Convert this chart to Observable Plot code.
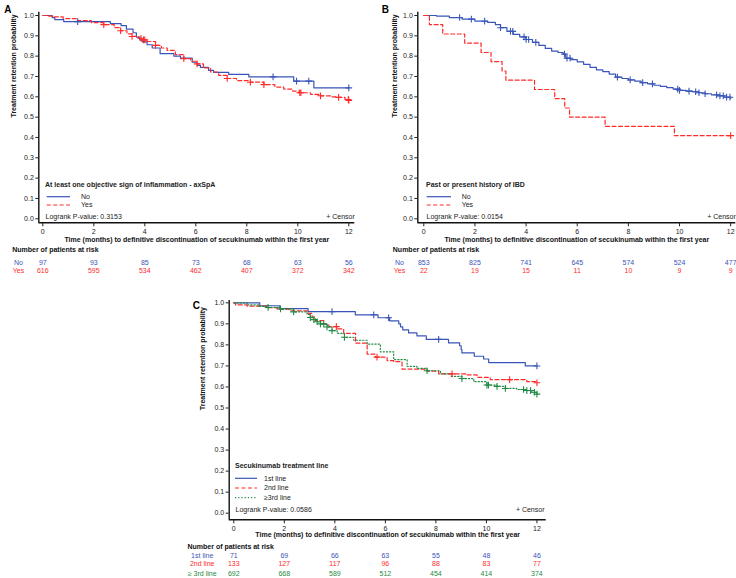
<!DOCTYPE html>
<html><head><meta charset="utf-8">
<script src="https://cdn.jsdelivr.net/npm/d3@7"></script>
<script src="https://cdn.jsdelivr.net/npm/@observablehq/plot@0.6"></script>
<style>
body{margin:0;background:#fff;}
#fig{position:relative;width:736px;height:578px;overflow:hidden;font-family:"Liberation Sans",Arial,sans-serif;}
#fig > div{position:absolute;}
</style></head><body><div id="fig"></div>
<script>
// ---------- shared ----------
const months = [0, 2, 4, 6, 8, 10, 12];
const yTicks = [0, 0.1, 0.2, 0.3, 0.4, 0.5, 0.6, 0.7, 0.8, 0.9, 1.0];
const BLUE = "#3a55b8", RED = "#ff2b2b", GREEN = "#1f8b45";

// ---------- Panel A ----------
const aNoT = [0, 0.37, 0.47, 0.82, 2.65, 3.07, 3.28, 3.54, 3.67, 3.8, 3.9, 4.09, 4.29, 4.6, 5.14, 5.4, 5.86, 6.05, 6.18, 6.5, 6.7, 7.29, 8.08, 9.84, 10.63, 12];
const aNoS = [1.0, 0.99, 0.98, 0.97, 0.96, 0.95, 0.933, 0.915, 0.894, 0.88, 0.87, 0.856, 0.84, 0.812, 0.80, 0.79, 0.77, 0.755, 0.745, 0.73, 0.72, 0.71, 0.698, 0.677, 0.644, 0.644];
const aNoCens = [1.37, 9.03, 9.95, 10.43, 12];
const aYesT = [0, 0.2, 0.43, 0.8, 1.35, 1.9, 2.39, 2.8, 3.05, 3.3, 3.5, 3.75, 3.95, 4.1, 4.42, 4.65, 4.88, 5.2, 5.53, 5.8, 6.05, 6.3, 6.58, 6.9, 7.23, 7.6, 8.14, 8.67, 9.1, 9.45, 9.8, 10.08, 10.5, 10.89, 11.3, 11.6, 11.85, 12];
const aYesS = [1.0, 0.997, 0.993, 0.985, 0.975, 0.965, 0.955, 0.94, 0.925, 0.91, 0.897, 0.888, 0.88, 0.872, 0.853, 0.84, 0.828, 0.808, 0.788, 0.775, 0.762, 0.742, 0.722, 0.705, 0.69, 0.68, 0.672, 0.66, 0.648, 0.638, 0.628, 0.62, 0.612, 0.605, 0.6, 0.597, 0.587, 0.582];
const aYesCens = [2.39, 3.05, 3.5, 3.85, 3.95, 4.0, 4.42, 5.53, 6.05, 7.23, 8.14, 8.67, 10.08, 10.12, 10.89, 11.6, 11.98, 12];
const aRiskNo = [97, 93, 85, 73, 68, 63, 56];
const aRiskYes = [616, 595, 534, 462, 407, 372, 342];

// ---------- Panel B ----------
const bNoT = [0, 0.5, 1.0, 1.5, 2.0, 2.5, 2.8, 3.0, 3.25, 3.5, 3.75, 4.0, 4.25, 4.5, 4.75, 5.0, 5.25, 5.45, 5.55, 5.75, 6.0, 6.25, 6.5, 6.75, 7.0, 7.25, 7.5, 7.75, 8.0, 8.25, 8.5, 8.75, 9.0, 9.25, 9.5, 9.75, 10.0, 10.25, 10.5, 10.75, 11.0, 11.25, 11.5, 11.75, 12];
const bNoS = [1.0, 0.997, 0.99, 0.982, 0.972, 0.966, 0.955, 0.94, 0.922, 0.907, 0.895, 0.882, 0.868, 0.853, 0.838, 0.825, 0.818, 0.81, 0.79, 0.783, 0.772, 0.76, 0.745, 0.733, 0.724, 0.712, 0.697, 0.69, 0.683, 0.677, 0.67, 0.664, 0.657, 0.651, 0.645, 0.638, 0.632, 0.628, 0.625, 0.62, 0.615, 0.61, 0.605, 0.598, 0.592];
const bNoCens = [1.4, 1.86, 2.38, 3.0, 3.39, 3.48, 3.92, 4.0, 4.1, 4.38, 5.5, 5.6, 5.72, 7.57, 8.07, 8.56, 8.94, 9.93, 10.0, 10.37, 10.63, 10.76, 11.0, 11.45, 11.58, 11.71, 11.84, 11.97];
const bYesT = [0, 0.22, 0.74, 1.6, 2.24, 2.63, 3.06, 3.21, 4.33, 5.12, 5.51, 5.7, 7.09, 9.8, 12];
const bYesS = [1.0, 0.955, 0.909, 0.864, 0.818, 0.773, 0.727, 0.682, 0.636, 0.591, 0.545, 0.5, 0.455, 0.409, 0.409];
const bYesCens = [12];
const bRiskNo = [853, 825, 741, 645, 574, 524, 477];
const bRiskYes = [22, 19, 15, 11, 10, 9, 9];

// ---------- Panel C ----------
const c1T = [0, 1.03, 1.82, 2.94, 4.81, 5.71, 6.17, 6.53, 6.6, 6.69, 6.92, 7.25, 7.62, 8.5, 8.94, 9.0, 9.03, 9.52, 9.89, 10.09, 11.54, 12];
const c1S = [1.0, 0.986, 0.972, 0.958, 0.943, 0.929, 0.914, 0.9, 0.886, 0.871, 0.857, 0.843, 0.826, 0.81, 0.796, 0.778, 0.762, 0.746, 0.733, 0.716, 0.70, 0.70];
const c1Cens = [3.89, 5.54, 6.13, 8.11, 12];
const c2T = [0, 0.07, 0.53, 1.32, 1.71, 2.24, 2.9, 3.1, 3.23, 3.56, 3.76, 4.09, 4.35, 4.82, 5.28, 5.6, 6.07, 6.33, 6.66, 7.65, 8.11, 9.23, 9.63, 10.15, 11.6, 12];
const c2S = [1.0, 0.99, 0.984, 0.977, 0.97, 0.962, 0.95, 0.932, 0.915, 0.898, 0.887, 0.876, 0.855, 0.808, 0.756, 0.742, 0.725, 0.72, 0.685, 0.675, 0.662, 0.657, 0.646, 0.635, 0.625, 0.62];
const c2Cens = [4.06, 5.67, 8.64, 10.92, 12];
const c3T = [0, 0.53, 1.0, 1.36, 1.85, 2.37, 2.9, 3.03, 3.17, 3.3, 3.43, 3.69, 3.89, 4.09, 4.38, 4.75, 5.28, 5.8, 6.33, 6.86, 7.25, 7.65, 8.18, 8.6, 9.03, 9.5, 10.02, 10.42, 10.75, 11.2, 11.54, 11.8, 12];
const c3S = [1.0, 0.99, 0.983, 0.978, 0.971, 0.957, 0.945, 0.93, 0.92, 0.91, 0.9, 0.885, 0.868, 0.855, 0.836, 0.822, 0.804, 0.767, 0.73, 0.698, 0.688, 0.677, 0.662, 0.65, 0.64, 0.625, 0.609, 0.603, 0.593, 0.588, 0.583, 0.575, 0.566];
const c3Cens = [1.36, 1.85, 2.37, 3.03, 3.17, 3.3, 3.43, 3.56, 3.69, 3.89, 4.38, 7.65, 9.03, 10.02, 10.08, 10.42, 10.75, 11.47, 11.6, 11.75, 11.9, 12];
const cRisk1 = [71, 69, 66, 63, 55, 48, 46];
const cRisk2 = [133, 127, 117, 96, 88, 83, 77];
const cRisk3 = [692, 668, 589, 512, 454, 414, 374];

// ---------- helpers ----------
function stepVal(T, S, t) { let v = S[0]; for (let i = 0; i < T.length; i++) if (T[i] <= t) v = S[i]; return v; }

function legendMark(L) {
  return (index, scales, values, dims) => {
    const x0 = dims.marginLeft, y0 = dims.height - dims.marginBottom;
    const g = d3.create("svg:g").attr("font-size", 7).attr("fill", "#222").attr("text-anchor", "start");
    g.append("text").attr("x", x0 + L.dx).attr("y", y0 - L.titleUp).attr("dy", "0.35em")
      .attr("font-weight", "bold").attr("text-anchor", "start").text(L.title);
    L.items.forEach((it, i) => {
      const y = y0 - L.rowsUp[i];
      g.append("line").attr("x1", x0 + L.lx1).attr("x2", x0 + L.lx2).attr("y1", y).attr("y2", y)
        .attr("stroke", it.color).attr("stroke-width", 1.2).attr("stroke-dasharray", it.dash || null);
      g.append("text").attr("x", x0 + L.tx).attr("y", y).attr("dy", "0.35em").attr("text-anchor", "start").text(it.name);
    });
    return g.node();
  };
}

function panel(p) {
  const marks = [
    Plot.ruleY([p.yDom[0]], {stroke: "#111", strokeWidth: 1.4}),
    Plot.ruleX([p.xDom[0]], {stroke: "#111", strokeWidth: 1.4}),
    Plot.axisY({ticks: yTicks, tickFormat: d3.format(".1f"), tickSize: 3, tickPadding: 2, fontSize: 7, label: null}),
    Plot.axisX({ticks: months, tickSize: 4, tickPadding: 2.5, fontSize: 7, label: null})
  ];
  for (const s of p.series)
    marks.push(Plot.line(s.T.map((t, i) => ({t, s: s.S[i]})), {x: "t", y: "s", curve: "step-after", stroke: s.color, strokeWidth: 1.2, strokeDasharray: s.dash}));
  for (const s of p.series)
    marks.push(Plot.dot(s.C.map(t => ({t, s: stepVal(s.T, s.S, t)})), {x: "t", y: "s", symbol: "plus", r: 2.3, stroke: s.color, strokeWidth: 1.1}));
  // legend
  marks.push(legendMark(p.legend));
  marks.push(Plot.text([p.logrank], {text: d => d, frameAnchor: "bottom-left", dx: p.legend.dx, dy: -p.legend.logUp, textAnchor: "start", fontSize: 7, fill: "#222"}));
  marks.push(Plot.text(["+ Censor"], {text: d => d, frameAnchor: "bottom-right", dx: p.censorDx, dy: -p.legend.logUp, textAnchor: "end", fontSize: 7, fill: "#222"}));
  // axis titles
  marks.push(Plot.text(["Time (months) to definitive discontinuation of secukinumab within the first year"], {text: d => d, frameAnchor: "bottom", dy: p.xTitleDy, fontSize: 7, fontWeight: "bold", fill: "#111"}));
  marks.push(Plot.text(["Treatment retention probability"], {text: d => d, frameAnchor: "left", rotate: -90, dx: p.yTitleDx, fontSize: 7, fontWeight: "bold", fill: "#111"}));
  // panel letter
  marks.push(Plot.text([p.letter], {text: d => d, frameAnchor: "top-left", dx: p.letterDx, dy: p.letterDy, fontSize: 10, fontWeight: "bold", fill: "#000"}));
  // risk table
  marks.push(Plot.text(["Number of patients at risk"], {text: d => d, frameAnchor: "bottom-left", dx: p.riskTitleDx, dy: p.riskTitleDy, textAnchor: "start", fontSize: 7, fontWeight: "bold", fill: "#111"}));
  p.risk.forEach((r, i) => {
    marks.push(Plot.text(months.map((t, j) => ({t, n: r.counts[j]})), {x: "t", text: "n", frameAnchor: "bottom", dy: p.riskRowDy[i], fontSize: 7, fill: r.color}));
    marks.push(Plot.text([r.label], {text: d => d, frameAnchor: "bottom-left", dx: p.riskLabelDx, dy: p.riskRowDy[i], textAnchor: "middle", fontSize: 7, fill: r.color}));
  });
  const svg = Plot.plot({
    width: p.width, height: p.height,
    marginLeft: p.mL, marginRight: p.mR, marginTop: p.mT, marginBottom: p.mB,
    style: {fontFamily: "Liberation Sans, Arial, sans-serif", fontSize: "7px", color: "#222", background: "transparent", overflow: "visible"},
    x: {domain: p.xDom},
    y: {domain: p.yDom},
    marks
  });
  const wrap = document.createElement("div");
  wrap.style.left = p.left + "px"; wrap.style.top = p.top + "px";
  wrap.appendChild(svg);
  document.getElementById("fig").appendChild(wrap);
}

// ---------- draw ----------
panel({
  letter: "A", left: 0, top: 0, width: 368, height: 280,
  mL: 38.3, mR: 13.7, mT: 11.7, mB: 57.7,
  xDom: [-0.157, 12.235], yDom: [-0.0197, 1.0162],
  series: [
    {T: aNoT, S: aNoS, C: aNoCens, color: BLUE, dash: null},
    {T: aYesT, S: aYesS, C: aYesCens, color: RED, dash: "4,2.5"}
  ],
  legend: {title: "At least one objective sign of inflammation - axSpA", dx: 6.7, titleUp: 37.3, lx1: 8.4, lx2: 31.7, tx: 42.7, rowsUp: [25.6, 17.3], logUp: 4,
    items: [{name: "No", color: BLUE}, {name: "Yes", color: RED, dash: "4,2.5"}]},
  logrank: "Logrank P-value: 0.3153", censorDx: 0,
  xTitleDy: 18.7, yTitleDx: -25.5, letterDx: -34.5, letterDy: -6.2,
  riskTitleDx: -26.6, riskTitleDy: 28.7, riskRowDy: [41.7, 50], riskLabelDx: -20.3,
  risk: [{label: "No", counts: aRiskNo, color: BLUE}, {label: "Yes", counts: aRiskYes, color: RED}]
});

panel({
  letter: "B", left: 368, top: 0, width: 368, height: 280,
  mL: 49.3, mR: 0.7, mT: 11.7, mB: 57.7,
  xDom: [-0.234, 12.2], yDom: [-0.0197, 1.0162],
  series: [
    {T: bNoT, S: bNoS, C: bNoCens, color: BLUE, dash: null},
    {T: bYesT, S: bYesS, C: bYesCens, color: RED, dash: "4,2.5"}
  ],
  legend: {title: "Past or present history of IBD", dx: 8.7, titleUp: 37.3, lx1: 9.4, lx2: 33.7, tx: 44.4, rowsUp: [25.6, 17.3], logUp: 4,
    items: [{name: "No", color: BLUE}, {name: "Yes", color: RED, dash: "4,2.5"}]},
  logrank: "Logrank P-value: 0.0154", censorDx: 0,
  xTitleDy: 18.7, yTitleDx: -23, letterDx: -36, letterDy: -6.2,
  riskTitleDx: -25, riskTitleDy: 28.7, riskRowDy: [41.7, 50], riskLabelDx: -18.3,
  risk: [{label: "No", counts: bRiskNo, color: BLUE}, {label: "Yes", counts: bRiskYes, color: RED}]
});

panel({
  letter: "C", left: 180, top: 290, width: 370, height: 290,
  mL: 48.7, mR: 4.3, mT: 10, mB: 60.7,
  xDom: [-0.182, 12.367], yDom: [-0.0314, 1.011],
  series: [
    {T: c1T, S: c1S, C: c1Cens, color: BLUE, dash: null},
    {T: c2T, S: c2S, C: c2Cens, color: RED, dash: "4,2.5"},
    {T: c3T, S: c3S, C: c3Cens, color: GREEN, dash: "1.2,2"}
  ],
  legend: {title: "Secukinumab treatment line", dx: 6.3, titleUp: 53.3, lx1: 6.3, lx2: 28.3, tx: 35.3, rowsUp: [41, 31.3, 21.6], logUp: 7.6,
    items: [{name: "1st line", color: BLUE}, {name: "2nd line", color: RED, dash: "4,2.5"}, {name: "\u22653rd line", color: GREEN, dash: "1.2,2"}]},
  logrank: "Logrank P-value: 0.0586", censorDx: -1.7,
  xTitleDy: 17.4, yTitleDx: -26, letterDx: -36.5, letterDy: 1,
  riskTitleDx: -41.7, riskTitleDy: 28.7, riskRowDy: [37.7, 46.4, 55.7], riskLabelDx: -27,
  risk: [{label: "1st line", counts: cRisk1, color: BLUE}, {label: "2nd line", counts: cRisk2, color: RED}, {label: "\u2265 3rd line", counts: cRisk3, color: GREEN}]
});
</script>
</body></html>
